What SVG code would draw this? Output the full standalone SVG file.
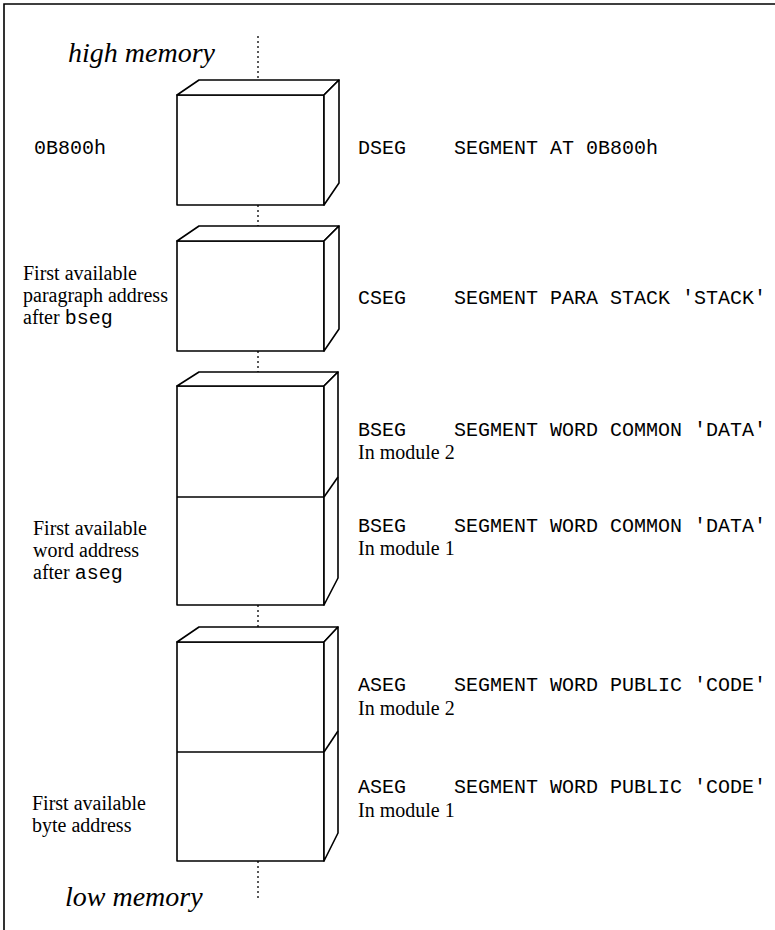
<svg xmlns="http://www.w3.org/2000/svg" width="775" height="930" viewBox="0 0 775 930">
<style>
.face{fill:#fff;stroke:#000;stroke-width:1.6;stroke-linejoin:round}
.ln{stroke:#000;stroke-width:1.6;fill:none}
.dot{stroke:#000;stroke-width:1.3;stroke-dasharray:2 3;fill:none}
.serif{font-family:"Liberation Serif","Times New Roman",serif;font-size:20px;fill:#000}
.mono{font-family:"Liberation Mono","Courier New",monospace;font-size:20px;fill:#000}
.big{font-family:"Liberation Serif","Times New Roman",serif;font-size:28px;font-style:italic;fill:#000}
</style>
<rect width="775" height="930" fill="#fff"/>
<path class="ln" d="M4,930 V4 H775"/>

<g id="connectors">
<line class="dot" x1="258" y1="36" x2="258" y2="86"/>
<line class="dot" x1="258" y1="205" x2="258" y2="234"/>
<line class="dot" x1="258" y1="351" x2="258" y2="380"/>
<line class="dot" x1="258" y1="605" x2="258" y2="634"/>
<line class="dot" x1="258" y1="861" x2="258" y2="898"/>
</g>

<g id="labels">
<text class="big" x="68" y="62">high memory</text>
<text class="big" x="65" y="906">low memory</text>
</g>

<g id="dseg">
<rect class="face" x="177" y="95" width="147" height="110"/>
<polygon class="face" points="177,95 199,80 339,80 324,95"/>
<polygon class="face" points="324,95 339,80 339,183 324,205"/>
<text class="mono" x="34" y="154">0B800h</text>
<text class="mono" x="358" y="154" xml:space="preserve">DSEG    SEGMENT AT 0B800h</text>
</g>

<g id="cseg">
<rect class="face" x="177" y="241" width="147" height="110"/>
<polygon class="face" points="177,241 199,226 339,226 324,241"/>
<polygon class="face" points="324,241 339,226 339,329 324,351"/>
<text class="serif" x="23" y="280">First available</text>
<text class="serif" x="23" y="302">paragraph address</text>
<text class="serif" x="23" y="324">after <tspan class="mono">bseg</tspan></text>
<text class="mono" x="358" y="304" xml:space="preserve">CSEG    SEGMENT PARA STACK 'STACK'</text>
</g>

<g id="bseg">
<rect class="face" x="177" y="386" width="147" height="219"/>
<polygon class="face" points="177,386 199,372 338,372 324,386"/>
<polygon class="face" points="324,386 338,372 338,578 324,605"/>
<line class="ln" x1="177" y1="497" x2="324" y2="497"/>
<line class="ln" x1="324" y1="497" x2="338" y2="477"/>
<text class="mono" x="358" y="436" xml:space="preserve">BSEG    SEGMENT WORD COMMON 'DATA'</text>
<text class="serif" x="358" y="459">In module 2</text>
<text class="mono" x="358" y="532" xml:space="preserve">BSEG    SEGMENT WORD COMMON 'DATA'</text>
<text class="serif" x="358" y="555">In module 1</text>
<text class="serif" x="33" y="535">First available</text>
<text class="serif" x="33" y="557">word address</text>
<text class="serif" x="33" y="579">after <tspan class="mono">aseg</tspan></text>
</g>

<g id="aseg">
<rect class="face" x="177" y="642" width="147" height="219"/>
<polygon class="face" points="177,642 199,627 338,627 324,642"/>
<polygon class="face" points="324,642 338,627 338,833 324,861"/>
<line class="ln" x1="177" y1="752" x2="324" y2="752"/>
<line class="ln" x1="324" y1="752" x2="338" y2="731"/>
<text class="mono" x="358" y="691" xml:space="preserve">ASEG    SEGMENT WORD PUBLIC 'CODE'</text>
<text class="serif" x="358" y="715">In module 2</text>
<text class="mono" x="358" y="793" xml:space="preserve">ASEG    SEGMENT WORD PUBLIC 'CODE'</text>
<text class="serif" x="358" y="817">In module 1</text>
<text class="serif" x="32" y="810">First available</text>
<text class="serif" x="32" y="832">byte address</text>
</g>
</svg>
